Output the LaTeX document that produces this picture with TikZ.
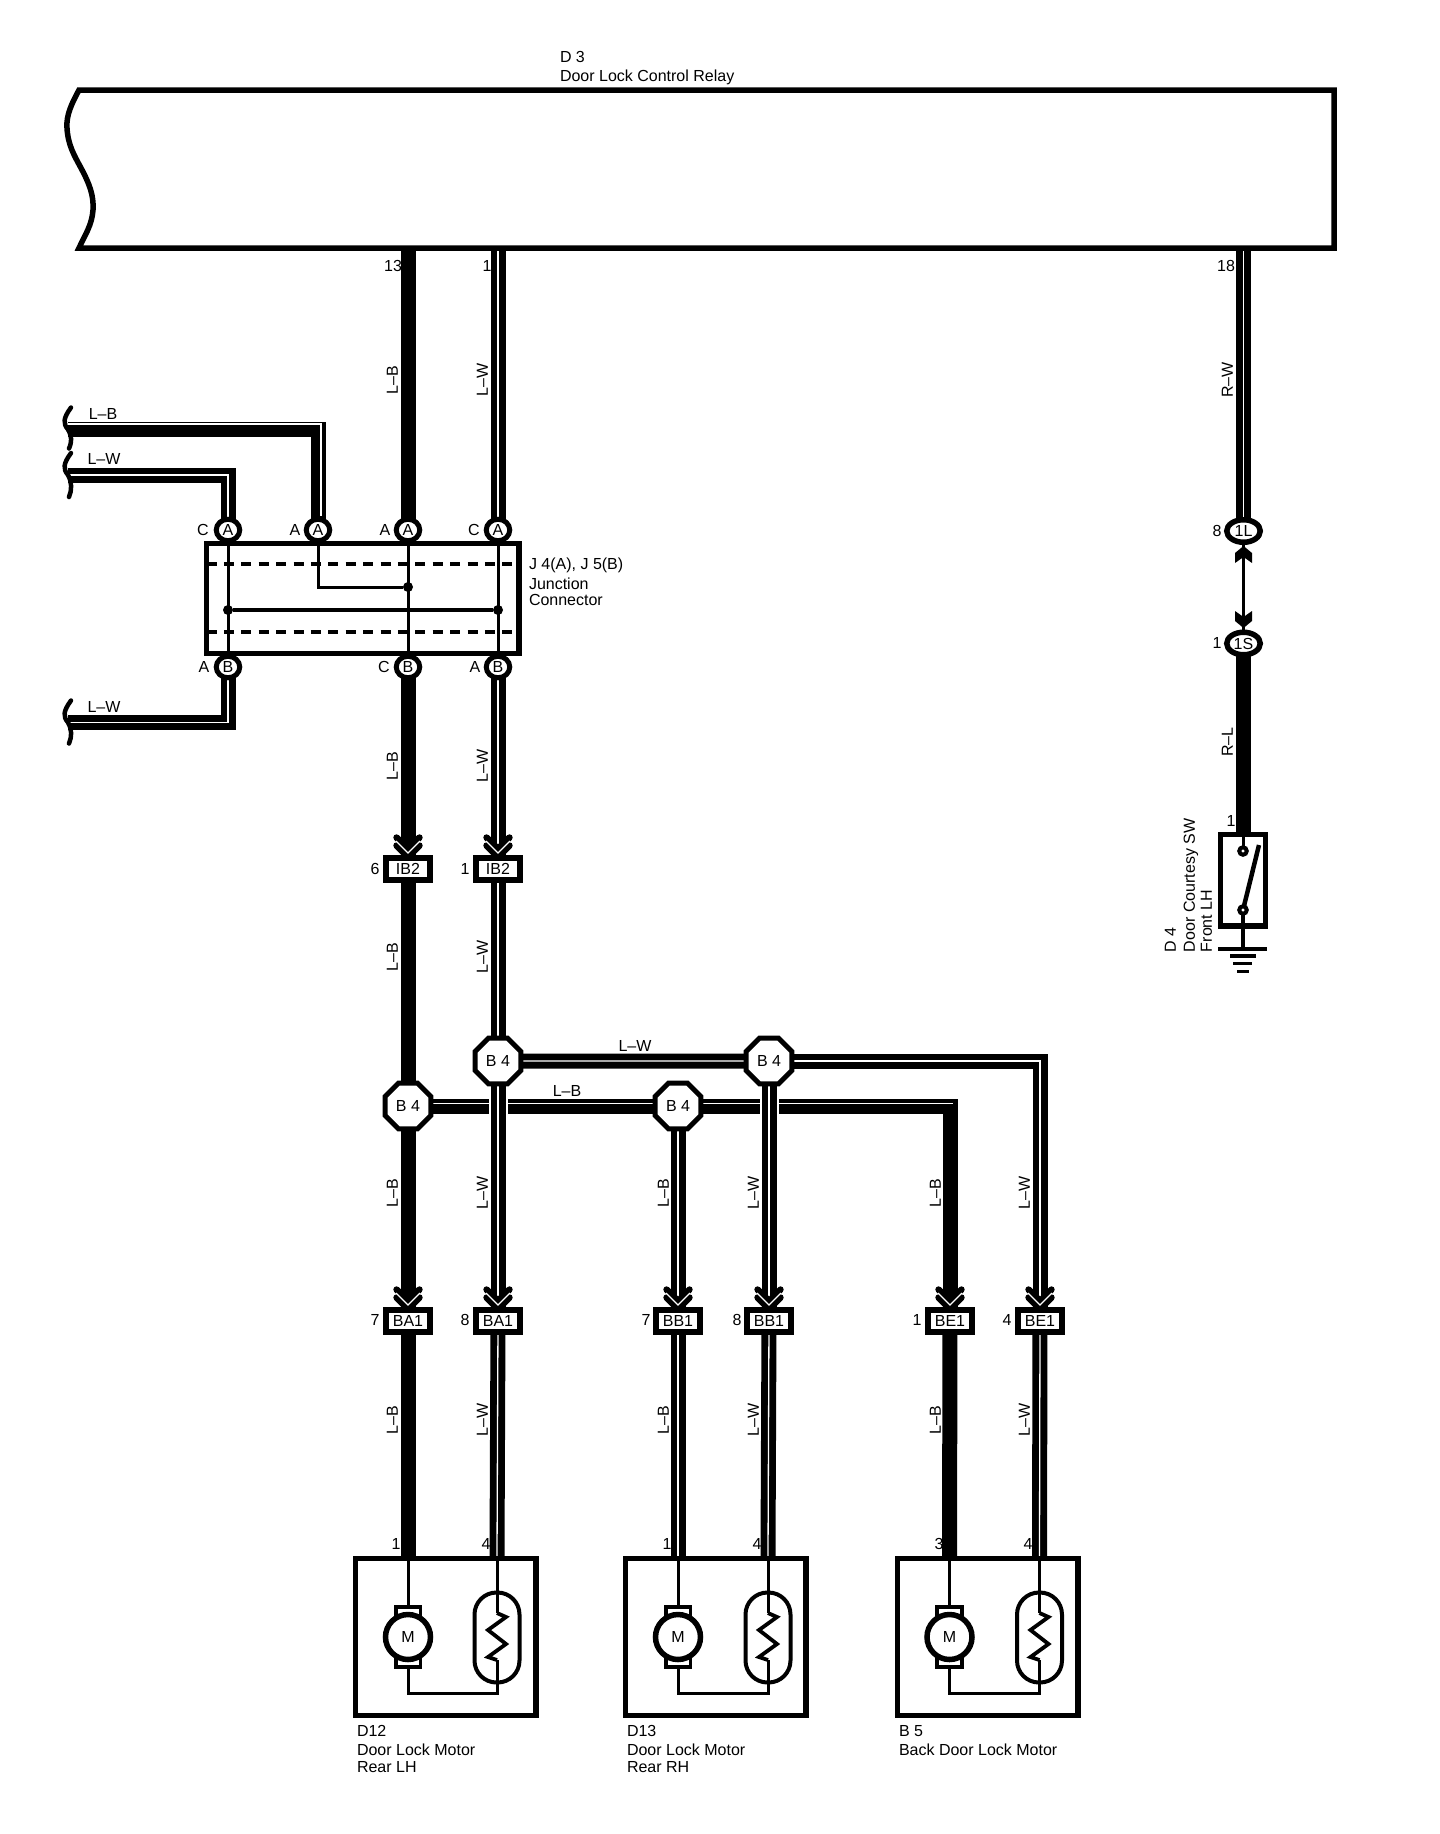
\documentclass[tikz,border=0pt]{standalone}
\usepackage{fontspec}
\setmainfont{Liberation Sans}
\usetikzlibrary{shapes.geometric,calc}
\pgfdeclarelayer{wirelayer}
\pgfsetlayers{wirelayer,main}
\newcommand{\lbl}{\fontsize{16}{18}\selectfont}
\tikzset{
  txt/.style={inner sep=0pt,outer sep=0pt,font=\lbl,text height=11.5pt,text depth=0pt},
  txtl/.style={txt,anchor=west},
  txtv/.style={txt,rotate=90},
  txtvl/.style={txt,rotate=90,anchor=west},
  pinA/.style={ellipse,draw=black,fill=white,line width=5pt,minimum width=23.5pt,minimum height=21.5pt,inner sep=0pt,outer sep=0pt,font=\lbl},
  pinO/.style={ellipse,draw=black,fill=white,line width=5.5pt,minimum width=33.5pt,minimum height=22.5pt,inner sep=0pt,outer sep=0pt,font=\lbl},
  conn/.style={rectangle,draw=black,fill=white,line width=6pt,minimum width=44pt,minimum height=22pt,inner sep=0pt,outer sep=0pt,font=\lbl},
  octo/.style={regular polygon,regular polygon sides=8,draw=black,fill=white,line width=5pt,minimum size=49.5pt,inner sep=0pt,outer sep=0pt,font=\lbl},
  solidw/.style={draw=black,line width=15pt,line cap=butt,line join=miter},
  stripew/.style={draw=black,double=white,double distance=1.3pt,line width=6.85pt,line cap=butt,line join=miter},
  stripeline/.style={draw=white,line width=1.3pt,line cap=butt},
  halo/.style={draw=white,line width=19pt,line cap=butt},
  thinw/.style={draw=black,line width=3pt,line join=miter},
  boxline/.style={draw=black,line width=5.5pt,line join=miter},
  dashw/.style={draw=black,line width=4pt,dash pattern=on 10pt off 7.4pt},
  wavew/.style={draw=black,line width=4.5pt,line cap=round},
  jdot/.style={circle,fill=black,inner sep=0pt,outer sep=0pt,minimum size=10pt},
  contact/.style={circle,draw=black,fill=white,line width=4pt,minimum size=7.5pt,inner sep=0pt,outer sep=0pt},
  chevb/.style={draw=black,line width=6.4pt,line cap=round,line join=miter},
  chevw/.style={draw=white,line width=1.2pt}
}
\newcommand{\chevrons}[1]{%
  \begin{scope}[shift={(#1.north)}]
    \draw[chevb] (-11.5,-20.5) -- (0,-9) -- (11.5,-20.5);
    \draw[chevb] (-11.5,-12.5) -- (0,-1) -- (11.5,-12.5);
    \draw[chevw] (-12,-17) -- (0,-5) -- (12,-17);
  \end{scope}}
\newcommand{\wavecap}[3]{%
  \begin{scope}[shift={(#1)}]
    \draw[wavew] (3,#2) .. controls (-5,#2+11) and (-5,#2+16) .. (0,0) .. controls (4,7) and (4,#3-7) .. (1,#3);
  \end{scope}}
% name, box-centre x, motor x, oval x
\newcommand{\motorunit}[4]{%
  \node[rectangle,boxline,minimum width=180.5pt,minimum height=157pt,inner sep=0pt,outer sep=0pt] (#1box) at (#2,1637) {};
  \coordinate (#1p1) at (#3,1556);
  \coordinate (#1p4) at (#4,1556);
  \coordinate (#1low) at (#3,1693);
  \filldraw[draw=black,fill=white,line width=3.6pt] (#3-12.3,1606.8) rectangle (#3+12.3,1622);
  \filldraw[draw=black,fill=white,line width=3.6pt] (#3-12.3,1652) rectangle (#3+12.3,1667.2);
  \node[circle,draw=black,fill=white,line width=5.5pt,minimum size=45pt,inner sep=0pt,outer sep=0pt,font=\lbl] (#1mot) at (#3,1637) {M};
  \node[rectangle,draw=black,rounded corners=22pt,line width=4pt,minimum width=45pt,minimum height=90pt,inner sep=0pt,outer sep=0pt] (#1oval) at (#4,1637.5) {};
  \begin{pgfonlayer}{wirelayer}
    \draw[thinw] (#1p1) -- (#3,1605);
    \draw[thinw] (#3,1669) -- (#1low) -- (#4,1693) -- (#4,1660);
    \draw[thinw,line width=3.8pt] (#4,1660) -- (#4-9,1657) -- (#4+9,1644) -- (#4-9,1630) -- (#4+9,1617) -- (#4,1613);
    \draw[thinw] (#4,1613) -- (#1p4);
  \end{pgfonlayer}}
\begin{document}
\begin{tikzpicture}[x=1pt,y=-1pt]
\begin{pgfonlayer}{wirelayer}
\path[use as bounding box,fill=white] (0,0) rectangle (1440,1834);
\end{pgfonlayer}

% ---- relay
\draw[boxline] (79,90) .. controls (72,103) and (66,115) .. (67,128)
  .. controls (68,145) and (74,155) .. (81,168)
  .. controls (89,183) and (94,195) .. (93,210)
  .. controls (92,225) and (85,235) .. (79,248)
  -- (1334,248) -- (1334,90) -- cycle;
\node[txtl] (d3a) at (560,57) {D 3};
\node[txtl] (d3b) at (560,76) {Door Lock Control Relay};
\coordinate (r13) at (408,250);
\coordinate (r1) at (498,250);
\coordinate (r18) at (1243.5,250);
\node[txt] (t13) at (393,266) {13};
\node[txt] (t1) at (487,266) {1};
\node[txt] (t18) at (1226,266) {18};

% ---- junction connector
\node[rectangle,draw=black,line width=5.5pt,minimum width=312.5pt,minimum height=110pt,inner sep=0pt,outer sep=0pt] (jbox) at (362.5,598.5) {};
\node[pinA] (jA1) at (228,530) {A};
\node[pinA] (jA2) at (318,530) {A};
\node[pinA] (jA3) at (408,530) {A};
\node[pinA] (jA4) at (498,530) {A};
\node[pinA] (jB1) at (228,667) {B};
\node[pinA] (jB3) at (408,667) {B};
\node[pinA] (jB4) at (498,667) {B};
\node[txt] (ja1t) at (203,530) {C};
\node[txt] (ja2t) at (295,530) {A};
\node[txt] (ja3t) at (385,530) {A};
\node[txt] (ja4t) at (474,530) {C};
\node[txt] (jb1t) at (204,667) {A};
\node[txt] (jb3t) at (384,667) {C};
\node[txt] (jb4t) at (475,667) {A};
\node[txtl] (jt1) at (529,564) {J 4(A), J 5(B)};
\node[txtl] (jt2) at (529,584) {Junction};
\node[txtl] (jt3) at (529,600) {Connector};
\node[jdot] (jd2) at (408,587) {};
\node[jdot] (jd1) at (228,610) {};
\node[jdot] (jd4) at (498,610) {};

% ---- left ends
\coordinate (endLB) at (68,429.5);
\coordinate (endLW) at (68,475);
\coordinate (endLW2) at (68,722.5);
\node[txt] (tLB0) at (103,414) {L–B};
\node[txt] (tLW0) at (104,459) {L–W};
\node[txt] (tLW2) at (104,707) {L–W};
\wavecap{endLB}{-22}{19}
\wavecap{endLW}{-22}{22}
\wavecap{endLW2}{-22}{21}

% ---- connectors
\node[conn] (ib6) at (408,869) {IB2};
\node[conn] (ib1) at (498,869) {IB2};
\node[txt] (tib6) at (375,869) {6};
\node[txt] (tib1) at (465,869) {1};
\node[octo] (oA) at (408,1106) {B 4};
\node[octo] (oB) at (498,1061) {B 4};
\node[octo] (oC) at (678,1106) {B 4};
\node[octo] (oD) at (769,1061) {B 4};
\node[txt] (thw) at (635,1046) {L–W};
\node[txt] (thb) at (567,1091) {L–B};
\node[conn] (ba7) at (408,1321) {BA1};
\node[conn] (ba8) at (498,1321) {BA1};
\node[conn] (bb7) at (678,1321) {BB1};
\node[conn] (bb8) at (769,1321) {BB1};
\node[conn] (be1) at (950,1321) {BE1};
\node[conn] (be4) at (1040,1321) {BE1};
\node[txt] (tba7) at (375,1320) {7};
\node[txt] (tba8) at (465,1320) {8};
\node[txt] (tbb7) at (646,1320) {7};
\node[txt] (tbb8) at (737,1320) {8};
\node[txt] (tbe1) at (917,1320) {1};
\node[txt] (tbe4) at (1007,1320) {4};

% ---- vertical wire labels
\foreach \n/\x/\y/\t in {a/392/380/L–B,b/482/380/L–W,c/1227/380/R–W,d/392/766/L–B,e/482/766/L–W,
  f/392/957/L–B,g/482/957/L–W,h/392/1193/L–B,i/482/1193/L–W,j/663/1193/L–B,k/753/1193/L–W,l/935/1193/L–B,m/1024/1193/L–W,
  n/392/1420/L–B,o/482/1420/L–W,p/663/1420/L–B,q/753/1420/L–W,r/935/1420/L–B,s/1024/1420/L–W,t/1227/742/R–L}
  {\node[txtv] (wl\n) at (\x,\y) {\t};}

% ---- motors
\motorunit{mA}{445.5}{408}{497}
\motorunit{mB}{715.5}{678}{768}
\motorunit{mC}{987.5}{949.5}{1039.5}
\foreach \n/\x/\t in {a/396/1,b/486/4,c/667/1,d/757/4,e/939/3,f/1028/4}
  {\node[txt] (mt\n) at (\x,1544) {\t};}
\node[txtl] (mAa) at (357,1731) {D12};
\node[txtl] (mAb) at (357,1750) {Door Lock Motor};
\node[txtl] (mAc) at (357,1767) {Rear LH};
\node[txtl] (mBa) at (627,1731) {D13};
\node[txtl] (mBb) at (627,1750) {Door Lock Motor};
\node[txtl] (mBc) at (627,1767) {Rear RH};
\node[txtl] (mCa) at (899,1731) {B 5};
\node[txtl] (mCb) at (899,1750) {Back Door Lock Motor};

% ---- right branch
\node[pinO] (p1L) at (1243.5,531) {1L};
\node[pinO] (p1S) at (1243.5,643.5) {1S};
\node[txt] (t8r) at (1217,531) {8};
\node[txt] (t1r) at (1217,643) {1};
\node[txt] (t1sw) at (1231,821) {1};
\node[rectangle,boxline,minimum width=45pt,minimum height=91.5pt,inner sep=0pt,outer sep=0pt] (sw) at (1243,880) {};
\node[contact] (swa) at (1243,851) {};
\node[contact] (swb) at (1243,910) {};
\coordinate (blade) at (1259,845);
\coordinate (gnd) at (1243,949);
\node[txtvl] (d4a) at (1170,952) {D 4};
\node[txtvl] (d4b) at (1189,952) {Door Courtesy SW};
\node[txtvl] (d4c) at (1206,952) {Front LH};

\begin{pgfonlayer}{wirelayer}
  % junction internals
  \draw[dashw] (206.5,564) -- (519,564);
  \draw[dashw] (206.5,632) -- (519,632);
  \draw[thinw] (jA1) -- (jB1);
  \draw[thinw] (jA3) -- (jB3);
  \draw[thinw] (jA4) -- (jB4);
  \draw[thinw] (jA2) |- (jd2);
  \draw[draw=black,line width=3.5pt] (jd1) -- (jd4);
  % left wires
  \path[solidw] (endLB) -| (jA2);
  \draw[stripeline] ($(endLB)+(0,-5.5)$) -- ($(endLB -| jA2)+(3,-5.5)$) -- (321,516);
  \path[stripew] (endLW) -| (jA1);
  \path[stripew] (endLW2) -| (jB1);
  % from relay
  \path[solidw] (r13) -- (jA3);
  \path[stripew] (r1) -- (jA4);
  \path[stripew] (r18) -- (p1L);
  % to IB2
  \path[solidw] (jB3) -- (ib6);
  \path[stripew] (jB4) -- (ib1);
  \chevrons{ib6}
  \chevrons{ib1}
  % lower
  \path[solidw] (ib6) -- (oA);
  \path[stripew] (ib1) -- (oB);
  \path[stripew] (oB) -- (oD);
  \path[stripew] (oD) -| (be4);
  \path[solidw] (oA) -| (be1);
  \draw[stripeline] ($(oA)+(0,-2.5)$) -- ($(oA -| be1)+(3,-2.5)$);
  \path[solidw] (oA) -- (ba7);
  \path[halo] (oB) -- (ba8);
  \path[stripew] (oB) -- (ba8);
  \path[stripew] (oC) -- (bb7);
  \path[halo] (oD) -- (bb8);
  \path[stripew] (oD) -- (bb8);
  \chevrons{ba7}
  \chevrons{ba8}
  \chevrons{bb7}
  \chevrons{bb8}
  \chevrons{be1}
  \chevrons{be4}
  % to motors
  \path[solidw] (ba7) -- (mAp1);
  \path[stripew] (ba8) -- (mAp4);
  \path[stripew] (bb7) -- (mBp1);
  \path[stripew] (bb8) -- (mBp4);
  \path[solidw] (be1) -- (mCp1);
  \path[stripew] (be4) -- (mCp4);
  % right branch
  \draw[draw=black,line width=3.5pt] (p1L) -- (p1S);
  \path[solidw] (p1S) -- (sw.north -| p1S);
  \fill[black] (1243.5,546) -- (1252,553) -- (1252,563) -- (1243.5,557) -- (1235,563) -- (1235,553) -- cycle;
  \fill[black] (1243.5,628) -- (1252,621) -- (1252,611) -- (1243.5,617) -- (1235,611) -- (1235,621) -- cycle;
  \draw[thinw] (sw.north) -- (swa);
  \draw[thinw,line width=3.5pt] (swb) -- (gnd);
  \draw[draw=black,line width=4.5pt] (swb) -- (blade);
\end{pgfonlayer}
% ground
\draw[draw=black,line width=4pt] ($(gnd)+(-25,0)$) -- ($(gnd)+(24,0)$);
\draw[draw=black,line width=3.5pt] ($(gnd)+(-13,7)$) -- ($(gnd)+(13,7)$);
\draw[draw=black,line width=3pt] ($(gnd)+(-10,14.5)$) -- ($(gnd)+(9,14.5)$);
\draw[draw=black,line width=3pt] ($(gnd)+(-6,22)$) -- ($(gnd)+(6,22)$);
\end{tikzpicture}
\end{document}
